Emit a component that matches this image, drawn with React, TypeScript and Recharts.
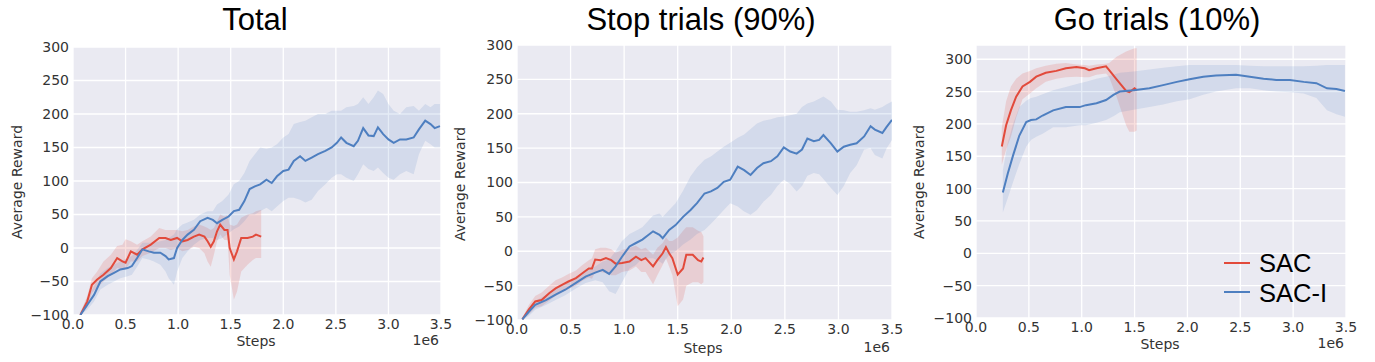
import React from "react";
import { ComposedChart, Line, Area, XAxis, YAxis, CartesianGrid } from "recharts";

const RED = "#e24a3b";
const BLUE = "#4e7fc0";
const TICK_FONT = "'DejaVu Sans', Verdana, sans-serif";
const TITLE_FONT = "'Liberation Sans', Arial, sans-serif";
const TEXT_GRAY = "#333333";

const X_TICKS = [0, 0.5, 1, 1.5, 2, 2.5, 3, 3.5];
const Y_TICKS = [-100, -50, 0, 50, 100, 150, 200, 250, 300];

// ---- Total ----
const TOTAL_SAC_STEPS = [0.07, 0.135, 0.18, 0.23, 0.29, 0.36, 0.42, 0.47, 0.5, 0.55, 0.61, 0.66, 0.74, 0.82, 0.88, 0.93, 0.99, 1.04, 1.09, 1.15, 1.2, 1.25, 1.28, 1.31, 1.34, 1.37, 1.4, 1.44, 1.47, 1.49, 1.53, 1.56, 1.6, 1.66, 1.71, 1.74, 1.79];
const TOTAL_SAC_MEAN = [-100, -80, -55, -47, -40, -30, -15, -20, -22, -5, -10, -2, 5, 15, 15, 12, 15, 10, 12, 17, 20, 17, 10, 2, 10, 25, 35, 27, 27, 0, -17, -5, 15, 15, 17, 20, 17];
const TOTAL_SAC_HI = [-97, -72, -45, -35, -20, -10, 3, 5, 13, 10, 5, 10, 17, 30, 27, 27, 27, 25, 27, 32, 35, 32, 30, 27, 30, 40, 50, 47, 49, 35, 33, 35, 45, 50, 52, 55, 57];
const TOTAL_SAC_LO = [-100, -88, -67, -59, -50, -40, -30, -32, -32, -20, -20, -12, -7, 0, 0, -3, 0, -5, -3, 2, 0, -8, -20, -28, -10, 10, 20, 12, 12, -40, -77, -65, -35, -25, -18, -15, -15];

const TOTAL_SACI_STEPS = [0.07, 0.135, 0.2, 0.26, 0.33, 0.39, 0.45, 0.52, 0.56, 0.61, 0.66, 0.72, 0.77, 0.83, 0.88, 0.91, 0.96, 0.99, 1.04, 1.09, 1.15, 1.21, 1.28, 1.33, 1.37, 1.42, 1.48, 1.53, 1.58, 1.63, 1.68, 1.73, 1.78, 1.84, 1.89, 1.94, 2.0, 2.05, 2.1, 2.16, 2.21, 2.27, 2.33, 2.4, 2.46, 2.51, 2.55, 2.6, 2.67, 2.71, 2.76, 2.81, 2.86, 2.9, 2.95, 3.0, 3.05, 3.11, 3.17, 3.24, 3.29, 3.35, 3.4, 3.44, 3.49];
const TOTAL_SACI_MEAN = [-100, -85, -70, -50, -42, -37, -32, -30, -27, -15, -2, -5, -7, -7, -12, -17, -15, 0, 12, 20, 27, 40, 45, 42, 37, 42, 47, 55, 57, 70, 88, 92, 95, 102, 97, 107, 115, 117, 130, 137, 130, 135, 140, 145, 150, 157, 165, 157, 152, 160, 179, 168, 167, 180, 170, 162, 157, 162, 162, 165, 177, 190, 185, 179, 182];
const TOTAL_SACI_HI = [-95, -75, -57, -38, -30, -25, -20, -15, -12, -3, 8, 8, 8, 10, 12, 15, 20, 28, 35, 38, 42, 50, 55, 55, 65, 70, 80, 95, 100, 112, 130, 140, 150, 148, 150, 155, 165, 170, 185, 188, 190, 195, 200, 200, 205, 205, 205, 210, 212, 215, 225, 215, 225, 235, 230, 215, 205, 200, 210, 212, 205, 215, 210, 215, 215];
const TOTAL_SACI_LO = [-100, -92, -80, -62, -55, -50, -45, -42, -40, -28, -15, -17, -20, -25, -35, -45, -55, -35, -15, -5, 5, 12, 15, 15, 12, 15, 22, 28, 32, 40, 50, 50, 55, 60, 55, 62, 70, 75, 75, 72, 68, 72, 85, 95, 105, 110, 110, 105, 100, 110, 125, 118, 115, 120, 112, 105, 102, 110, 115, 110, 140, 160, 155, 150, 150];

// ---- Stop trials ----
const STOP_SAC_STEPS = [0.05, 0.11, 0.17, 0.23, 0.3, 0.36, 0.42, 0.48, 0.55, 0.61, 0.67, 0.7, 0.73, 0.78, 0.83, 0.88, 0.92, 0.98, 1.05, 1.11, 1.16, 1.2, 1.27, 1.31, 1.36, 1.39, 1.42, 1.45, 1.5, 1.55, 1.58, 1.64, 1.69, 1.72, 1.74];
const STOP_SAC_MEAN = [-99, -85, -73, -71, -61, -54, -49, -44, -39, -32, -25, -25, -12, -13, -10, -13, -18, -17, -15, -8, -13, -10, -22, -13, -3, 6, -3, -10, -34, -25, -5, -5, -13, -15, -9];
const STOP_SAC_HI = [-97, -78, -65, -60, -50, -42, -38, -33, -28, -20, -13, -10, 3, 5, 5, 3, -2, 2, 5, 8, 3, 5, -5, 5, 12, 20, 15, 15, 20, 30, 35, 35, 30, 28, 22];
const STOP_SAC_LO = [-100, -92, -82, -80, -72, -65, -60, -55, -50, -43, -38, -40, -30, -30, -32, -35, -35, -30, -28, -22, -30, -30, -48, -35, -20, -10, -22, -35, -80, -70, -50, -45, -45, -48, -45];

const STOP_SACI_STEPS = [0.05, 0.11, 0.17, 0.27, 0.36, 0.45, 0.55, 0.64, 0.73, 0.8, 0.86, 0.92, 0.98, 1.05, 1.11, 1.17, 1.27, 1.33, 1.36, 1.42, 1.48, 1.55, 1.62, 1.68, 1.75, 1.81, 1.87, 1.93, 1.99, 2.06, 2.12, 2.18, 2.24, 2.3, 2.37, 2.43, 2.49, 2.55, 2.61, 2.66, 2.71, 2.77, 2.82, 2.86, 2.93, 2.99, 3.05, 3.11, 3.17, 3.24, 3.3, 3.34, 3.41, 3.45, 3.5];
const STOP_SACI_MEAN = [-99, -88, -78, -71, -63, -56, -46, -37, -31, -27, -33, -22, -8, 7, 12, 17, 29, 24, 19, 31, 38, 50, 60, 70, 84, 87, 92, 101, 104, 123, 118, 111, 121, 128, 131, 138, 151, 145, 142, 148, 164, 160, 162, 169, 157, 145, 152, 155, 157, 167, 182, 177, 172, 181, 191];
const STOP_SACI_HI = [-96, -82, -72, -64, -55, -48, -38, -28, -22, -15, -12, 0, 15, 25, 30, 35, 52, 55, 50, 60, 70, 88, 109, 122, 133, 138, 145, 152, 158, 165, 170, 178, 186, 190, 192, 195, 196, 198, 200, 210, 215, 218, 222, 225, 218, 206, 205, 203, 203, 205, 208, 206, 210, 214, 218];
const STOP_SACI_LO = [-100, -94, -85, -78, -71, -64, -54, -46, -42, -45, -58, -62, -45, -25, -20, -10, -10, -15, -18, -5, 0, 10, 17, 25, 31, 40, 50, 60, 70, 65, 58, 53, 60, 72, 82, 95, 104, 98, 87, 95, 110, 114, 112, 105, 92, 82, 95, 114, 125, 148, 150, 140, 135, 150, 162];

// ---- Go trials ----
const GO_SAC_STEPS = [0.244, 0.285, 0.33, 0.38, 0.44, 0.51, 0.57, 0.66, 0.76, 0.85, 0.95, 1.03, 1.07, 1.14, 1.23, 1.26, 1.33, 1.42, 1.45, 1.5, 1.52];
const GO_SAC_MEAN = [165, 198, 221, 242, 258, 265, 273, 279, 282, 286, 288, 286, 283, 286, 289, 283, 269, 251, 249, 255, 252];
const GO_SAC_HI = [195, 235, 258, 270, 278, 282, 286, 290, 293, 294, 292, 291, 290, 292, 293, 294, 304, 312, 314, 317, 317];
const GO_SAC_LO = [137, 160, 180, 210, 238, 247, 255, 265, 270, 272, 273, 272, 272, 276, 278, 272, 242, 198, 188, 188, 190];

const GO_SACI_STEPS = [0.254, 0.3, 0.35, 0.41, 0.475, 0.52, 0.57, 0.63, 0.73, 0.85, 0.98, 1.04, 1.14, 1.23, 1.3, 1.36, 1.49, 1.64, 1.77, 1.9, 2.02, 2.15, 2.27, 2.46, 2.59, 2.72, 2.84, 2.97, 3.1, 3.22, 3.32, 3.41, 3.49];
const GO_SACI_MEAN = [94, 123, 151, 182, 203, 206, 207, 213, 221, 226, 226, 229, 232, 237, 245, 250, 252, 255, 260, 265, 269, 273, 275, 276, 273, 270, 268, 268, 265, 263, 255, 254, 251];
const GO_SACI_HI = [128, 170, 200, 226, 236, 240, 242, 246, 252, 257, 263, 265, 270, 273, 276, 279, 281, 284, 287, 289, 291, 291, 291, 291, 290, 289, 289, 289, 289, 290, 291, 291, 291];
const GO_SACI_LO = [63, 85, 110, 138, 165, 175, 180, 185, 195, 195, 198, 198, 202, 206, 212, 218, 222, 226, 230, 235, 238, 245, 250, 255, 255, 252, 250, 249, 247, 240, 221, 215, 211];

type Row = { x: number; mean: number; band: [number, number] };

const toRows = (steps: number[], mean: number[], lo: number[], hi: number[]): Row[] =>
  steps.map((x, i) => ({ x, mean: mean[i], band: [lo[i], hi[i]] }));

const panels = [
  {
    title: "Total",
    sac: toRows(TOTAL_SAC_STEPS, TOTAL_SAC_MEAN, TOTAL_SAC_LO, TOTAL_SAC_HI),
    saci: toRows(TOTAL_SACI_STEPS, TOTAL_SACI_MEAN, TOTAL_SACI_LO, TOTAL_SACI_HI),
    yMax: 300,
    left: 0, width: 460, top: 47, right: 19, yAxisWidth: 73, xAxisHeight: 47, xTickMargin: 4,
    titleX: 255, yLabel: [17, 182], stepsLabel: [256, 341], expLabel: [439, 340],
  },
  {
    title: "Stop trials (90%)",
    sac: toRows(STOP_SAC_STEPS, STOP_SAC_MEAN, STOP_SAC_LO, STOP_SAC_HI),
    saci: toRows(STOP_SACI_STEPS, STOP_SACI_MEAN, STOP_SACI_LO, STOP_SACI_HI),
    yMax: 300,
    left: 450, width: 460, top: 45, right: 18, yAxisWidth: 67, xAxisHeight: 42, xTickMargin: 4,
    titleX: 701, yLabel: [460, 184], stepsLabel: [703, 348], expLabel: [890, 347],
  },
  {
    title: "Go trials (10%)",
    sac: toRows(GO_SAC_STEPS, GO_SAC_MEAN, GO_SAC_LO, GO_SAC_HI),
    saci: toRows(GO_SACI_STEPS, GO_SACI_MEAN, GO_SACI_LO, GO_SACI_HI),
    yMax: 322,
    left: 905, width: 470, top: 45, right: 29, yAxisWidth: 71, xAxisHeight: 44, xTickMargin: 4,
    titleX: 1157, yLabel: [919, 182], stepsLabel: [1160, 344], expLabel: [1344, 343],
  },
];

const fmtY = (v: number) => (v < 0 ? "\u2212" + Math.abs(v) : String(v));
const tickStyle = { fontSize: 14, fill: TEXT_GRAY, fontFamily: TICK_FONT };
const labelStyle: React.CSSProperties = {
  position: "absolute", fontFamily: TICK_FONT, fontSize: 14, color: TEXT_GRAY,
  whiteSpace: "nowrap", lineHeight: "16px",
};

function Panel({ p }: { p: typeof panels[number] }) {
  return (
    <>
      <div style={{ position: "absolute", left: p.left, top: 0, width: p.width, height: 362 }}>
        <ComposedChart width={p.width} height={362} margin={{ top: p.top, right: p.right, bottom: 0, left: 0 }}>
          <CartesianGrid fill="#eaeaf2" fillOpacity={1} stroke="#ffffff" strokeWidth={1.3} />
          <XAxis
            type="number" dataKey="x" domain={[0, 3.5]} ticks={X_TICKS} allowDataOverflow
            tickFormatter={(v: number) => v.toFixed(1)}
            axisLine={false} tickLine={false} tickSize={0} tickMargin={p.xTickMargin}
            height={p.xAxisHeight} tick={tickStyle} interval={0}
          />
          <YAxis
            type="number" domain={[-100, p.yMax]} ticks={Y_TICKS} allowDataOverflow
            tickFormatter={fmtY} axisLine={false} tickLine={false} tickSize={0} tickMargin={4}
            width={p.yAxisWidth} tick={tickStyle} interval={0}
          />
          <Area data={p.sac} dataKey="band" type="linear" stroke="none" fill={RED} fillOpacity={0.17} isAnimationActive={false} />
          <Area data={p.saci} dataKey="band" type="linear" stroke="none" fill={BLUE} fillOpacity={0.15} isAnimationActive={false} />
          <Line data={p.sac} dataKey="mean" type="linear" stroke={RED} strokeWidth={2} dot={false} isAnimationActive={false} />
          <Line data={p.saci} dataKey="mean" type="linear" stroke={BLUE} strokeWidth={2} dot={false} isAnimationActive={false} />
        </ComposedChart>
      </div>
      <div style={{
        position: "absolute", left: p.titleX, top: 4, transform: "translateX(-50%)",
        fontFamily: TITLE_FONT, fontSize: 31, lineHeight: "31px", color: "#000", whiteSpace: "nowrap",
      }}>{p.title}</div>
      <div style={{ ...labelStyle, left: p.yLabel[0], top: p.yLabel[1], transform: "translate(-50%, -50%) rotate(-90deg)" }}>
        Average Reward
      </div>
      <div style={{ ...labelStyle, left: p.stepsLabel[0], top: p.stepsLabel[1], transform: "translate(-50%, -50%)" }}>
        Steps
      </div>
      <div style={{ ...labelStyle, left: p.expLabel[0], top: p.expLabel[1], transform: "translate(-100%, -50%)" }}>
        1e6
      </div>
    </>
  );
}

const LEGEND = [
  { name: "SAC", color: RED, lineY: 263, top: 250 },
  { name: "SAC-I", color: BLUE, lineY: 292, top: 280 },
];

export default function App() {
  return (
    <div style={{ position: "absolute", left: 0, top: 0, width: 1375, height: 362, background: "#fff", overflow: "hidden" }}>
      {panels.map((p) => <Panel key={p.title} p={p} />)}
      {LEGEND.map((l) => (
        <React.Fragment key={l.name}>
          <div style={{ position: "absolute", left: 1224, top: l.lineY - 1.25, width: 26, height: 2.5, background: l.color }} />
          <div style={{
            position: "absolute", left: 1259, top: l.top, fontFamily: TITLE_FONT, fontSize: 25.5,
            lineHeight: "26px", color: "#000", whiteSpace: "nowrap",
          }}>{l.name}</div>
        </React.Fragment>
      ))}
    </div>
  );
}
